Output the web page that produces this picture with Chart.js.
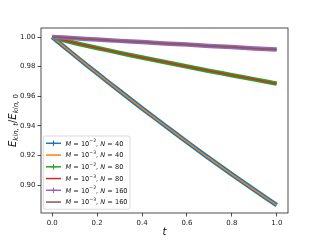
<!DOCTYPE html>
<html><head><meta charset="utf-8">
<script src="https://cdn.jsdelivr.net/npm/chart.js"></script>
<style>html,body{margin:0;padding:0;background:#fff}canvas{display:block}</style>
</head><body>
<canvas id="c" width="320" height="240"></canvas>
<script>
const tValues = [0,0.05,0.1,0.15,0.2,0.25,0.3,0.35,0.4,0.45,0.5,0.55,0.6,0.65,0.7,0.75,0.8,0.85,0.9,0.95,1.0];
const e_M2_N40 = [1.0000,0.9938,0.9876,0.9815,0.9755,0.9695,0.9636,0.9577,0.9518,0.9461,0.9404,0.9347,0.9291,0.9235,0.9180,0.9126,0.9072,0.9019,0.8967,0.8915,0.8865];
const e_M3_N40 = [1.0000,0.9938,0.9876,0.9815,0.9755,0.9695,0.9636,0.9577,0.9518,0.9461,0.9404,0.9347,0.9291,0.9235,0.9180,0.9126,0.9072,0.9019,0.8967,0.8915,0.8865];
const e_M2_N80 = [1.0000,0.9979,0.9960,0.9943,0.9926,0.9910,0.9893,0.9877,0.9862,0.9846,0.9831,0.9816,0.9801,0.9786,0.9771,0.9757,0.9742,0.9728,0.9714,0.9699,0.9685];
const e_M3_N80 = [1.0000,0.9979,0.9960,0.9943,0.9926,0.9910,0.9893,0.9877,0.9862,0.9846,0.9831,0.9816,0.9801,0.9786,0.9771,0.9757,0.9742,0.9728,0.9714,0.9699,0.9685];
const e_M2_N160 = [1.0000,0.9996,0.9991,0.9987,0.9983,0.9979,0.9974,0.9970,0.9966,0.9962,0.9957,0.9953,0.9949,0.9945,0.9940,0.9936,0.9932,0.9928,0.9923,0.9919,0.9915];
const e_M3_N160 = [1.0000,0.9996,0.9991,0.9987,0.9983,0.9979,0.9974,0.9970,0.9966,0.9962,0.9957,0.9953,0.9949,0.9945,0.9940,0.9936,0.9932,0.9928,0.9923,0.9919,0.9915];
const mExponents = ['−2','−3','−2','−3','−2','−3'];
const nValues = ['40','40','80','80','160','160'];
const yTicks = [0.90,0.92,0.94,0.96,0.98,1.00];
const xTicks = [0.0,0.2,0.4,0.6,0.8,1.0];

const colors = ['#1f77b4','#ff7f0e','#2ca02c','#d62728','#9467bd','#8c564b'];
const hasMarker = [true,false,true,false,true,false];
const series = [e_M2_N40,e_M3_N40,e_M2_N80,e_M3_N80,e_M2_N160,e_M3_N160];
const orders = [5,4,3,2,1,0];

const datasets = series.map((s,i)=>({
  label: 'M=10^' + mExponents[i] + ', N=' + nValues[i],
  data: tValues.map((t,j)=>({x:t,y:s[j]})),
  borderColor: colors[i],
  backgroundColor: colors[i],
  borderWidth: hasMarker[i] ? 4.5 : 1.5,
  pointRadius: 0,
  tension: 0,
  fill: false,
  order: orders[i]
}));

const FONT = '"DejaVu Sans", sans-serif';

function drawParts(ctx, x, y, parts, size) {
  let cx = x;
  for (const p of parts) {
    const fs = p.sup || p.sub ? size*0.7 : size;
    ctx.font = (p.it ? 'italic ' : '') + fs + 'px ' + FONT;
    const dy = p.sup ? -size*0.38 : (p.sub ? size*0.28 : 0);
    if (ctx._measureOnly) {} else ctx.fillText(p.t, cx, y + dy);
    cx += ctx.measureText(p.t).width;
  }
  return cx - x;
}
function measureParts(ctx, parts, size) {
  let w = 0;
  for (const p of parts) {
    const fs = p.sup || p.sub ? size*0.7 : size;
    ctx.font = (p.it ? 'italic ' : '') + fs + 'px ' + FONT;
    w += ctx.measureText(p.t).width;
  }
  return w;
}

const decor = {
  id: 'decor',
  beforeDraw(chart) {
    const ctx = chart.ctx;
    ctx.save(); ctx.fillStyle = '#fff'; ctx.fillRect(0,0,chart.width,chart.height); ctx.restore();
  },
  afterDraw(chart) {
    const ctx = chart.ctx, a = chart.chartArea;
    ctx.save();
    // frame
    ctx.strokeStyle = '#222'; ctx.lineWidth = 0.8;
    ctx.strokeRect(a.left, a.top, a.right - a.left, a.bottom - a.top);
    // x title
    ctx.fillStyle = '#111'; ctx.textBaseline = 'middle'; ctx.textAlign = 'center';
    ctx.font = 'italic 10px ' + FONT;
    ctx.fillText('t', (a.left + a.right)/2, 232);
    // y title
    const yParts = [{t:'E',it:true},{t:'kin, t',it:true,sub:true},{t:'/'},{t:'E',it:true},{t:'kin, ',it:true,sub:true},{t:'0',sub:true}];
    ctx.textAlign = 'left';
    const w = measureParts(ctx, yParts, 10);
    ctx.translate(13, (a.top + a.bottom)/2);
    ctx.rotate(-Math.PI/2);
    drawParts(ctx, -w/2, 0, yParts, 10);
    ctx.restore();

    // legend
    ctx.save();
    const bx = 43.3, by = 136, bw = 86.7, bh = 73.3;
    ctx.fillStyle = 'rgba(255,255,255,0.8)';
    ctx.strokeStyle = '#d0d0d0'; ctx.lineWidth = 0.8;
    ctx.beginPath();
    if (ctx.roundRect) ctx.roundRect(bx, by, bw, bh, 2); else ctx.rect(bx,by,bw,bh);
    ctx.fill(); ctx.stroke();
    for (let i = 0; i < 6; i++) {
      const yy = 143.3 + i*11.75;
      ctx.strokeStyle = colors[i]; ctx.lineWidth = 1.5;
      ctx.beginPath(); ctx.moveTo(46, yy); ctx.lineTo(61, yy); ctx.stroke();
      if (hasMarker[i]) {
        ctx.lineWidth = 1;
        ctx.beginPath();
        ctx.moveTo(53.5, yy-2.8); ctx.lineTo(53.5, yy+2.8);
        ctx.moveTo(50.7, yy); ctx.lineTo(56.3, yy);
        ctx.stroke();
      }
      ctx.fillStyle = '#111'; ctx.textBaseline = 'middle'; ctx.textAlign = 'left';
      const parts = [{t:'M',it:true},{t:' = 10'},{t:mExponents[i],sup:true},{t:', '},{t:'N',it:true},{t:' = ' + nValues[i]}];
      drawParts(ctx, 65.5, yy + 0.5, parts, 6.6);
    }
    ctx.restore();
  }
};

new Chart(document.getElementById('c'), {
  type: 'line',
  data: { datasets },
  options: {
    responsive: false,
    animation: false,
    devicePixelRatio: 1,
    layout: { padding: { left: 0, right: 32, top: 28, bottom: 0 } },
    plugins: { legend: { display: false }, tooltip: { enabled: false } },
    scales: {
      x: {
        type: 'linear', min: -0.05, max: 1.05,
        afterBuildTicks: s => { s.ticks = xTicks.map(v => ({value: v})); },
        afterFit: s => { s.height = 27; },
        grid: { display: true, drawOnChartArea: false, drawTicks: true, tickLength: 3.5, tickWidth: 0.8, tickColor: '#222' },
        border: { display: false },
        ticks: { font: { size: 7, family: FONT }, color: '#222', padding: 2, maxRotation: 0, callback: v => v.toFixed(1) }
      },
      y: {
        type: 'linear', min: 0.8811, max: 1.0061,
        afterBuildTicks: s => { s.ticks = yTicks.map(v => ({value: v})); },
        afterFit: s => { s.width = 41; },
        grid: { display: true, drawOnChartArea: false, drawTicks: true, tickLength: 3.5, tickWidth: 0.8, tickColor: '#222' },
        border: { display: false },
        ticks: { font: { size: 7, family: FONT }, color: '#222', padding: 2, callback: v => v.toFixed(2) }
      }
    }
  },
  plugins: [decor]
});
</script>
</body></html>
